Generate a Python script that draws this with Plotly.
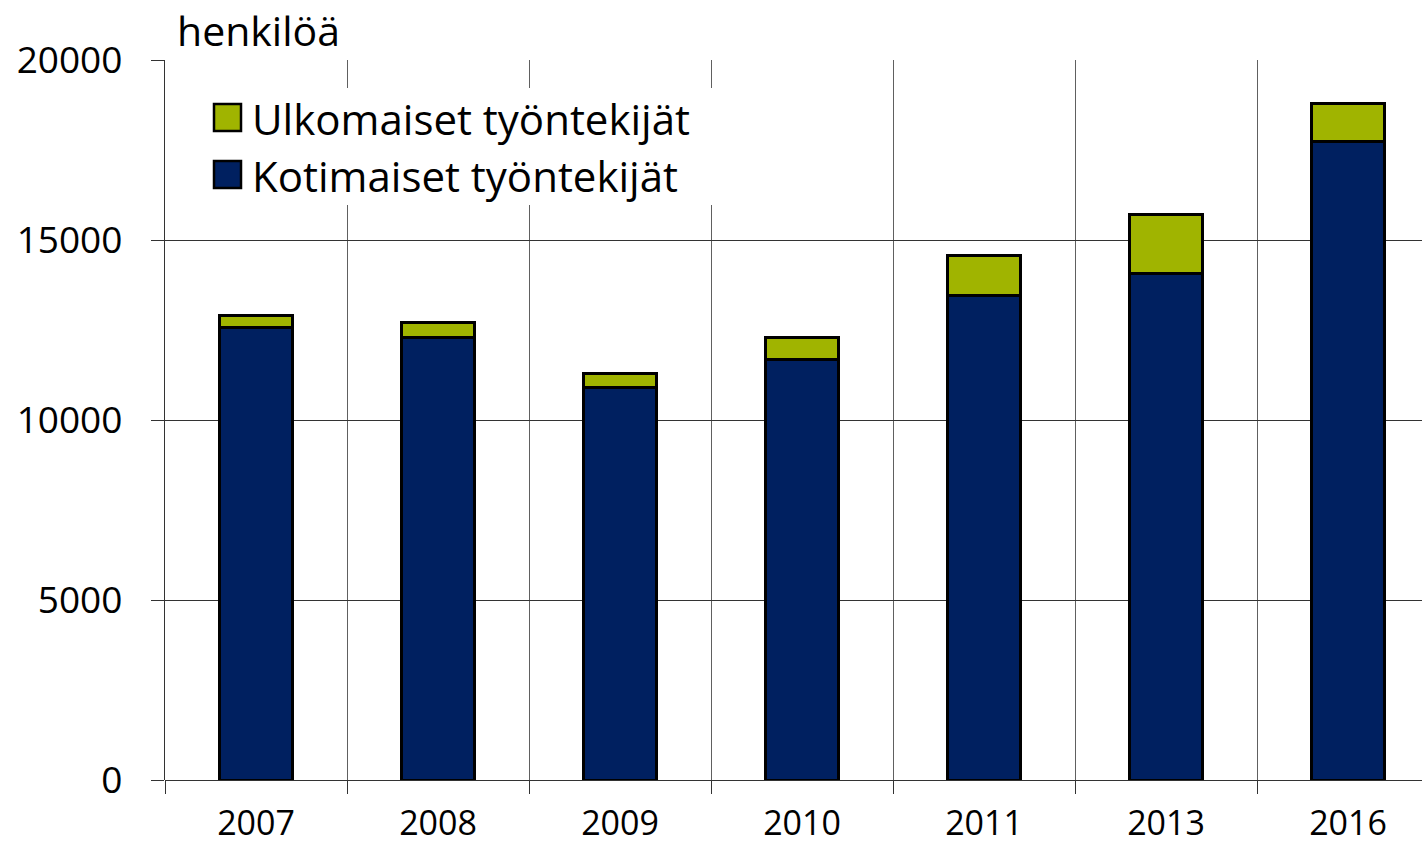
import plotly.graph_objects as go

years = ["2007", "2008", "2009", "2010", "2011", "2013", "2016"]
kotimaiset = [12580, 12280, 10890, 11670, 13470, 14080, 17750]
ulkomaiset = [320, 440, 410, 630, 1090, 1640, 1030]
y_ticks = [0, 5000, 10000, 15000, 20000]

name_ulko = "Ulkomaiset työntekijät"
name_koti = "Kotimaiset työntekijät"
col_ulko = "#A0B400"
col_koti = "#002060"

SW, SH = 1422, 847          # figure size
PL, PT, PB = 165, 60, 780   # plot area edges
PW, PH = SW - PL, PB - PT

def px(x):
    return (x - PL) / PW

def py(y):
    return (PB - y) / PH

FONT = "Open Sans"

fig = go.Figure()
fig.add_trace(go.Bar(x=years, y=kotimaiset, name=name_koti, width=0.4,
                     marker=dict(color=col_koti, line=dict(color="black", width=3)),
                     showlegend=False))
fig.add_trace(go.Bar(x=years, y=ulkomaiset, name=name_ulko, width=0.4,
                     marker=dict(color=col_ulko, line=dict(color="black", width=3)),
                     showlegend=False))

shapes = [
    dict(type="rect", xref="paper", yref="paper", x0=px(200), x1=px(722), y0=py(205), y1=py(88),
         fillcolor="white", line=dict(width=0), layer="above"),
    dict(type="rect", xref="paper", yref="paper", x0=px(214), x1=px(241), y0=py(131), y1=py(104),
         fillcolor=col_ulko, line=dict(color="black", width=2.5), layer="above"),
    dict(type="rect", xref="paper", yref="paper", x0=px(214), x1=px(241), y0=py(188), y1=py(161),
         fillcolor=col_koti, line=dict(color="black", width=2.5), layer="above"),
]
annotations = [
    dict(text=name_ulko, xref="paper", yref="paper", x=px(250), y=py(118), xanchor="left",
         yanchor="middle", showarrow=False, font=dict(family=FONT, size=42, color="black")),
    dict(text=name_koti, xref="paper", yref="paper", x=px(250), y=py(175), xanchor="left",
         yanchor="middle", showarrow=False, font=dict(family=FONT, size=42, color="black")),
    dict(text="henkilöä", xref="paper", yref="paper", x=px(175), y=py(30), xanchor="left",
         yanchor="middle", showarrow=False, font=dict(family=FONT, size=41, color="black")),
]

fig.update_layout(
    barmode="stack",
    width=SW, height=SH,
    margin=dict(l=PL, r=0, t=PT, b=SH - PB, pad=0, autoexpand=False),
    paper_bgcolor="white", plot_bgcolor="white",
    font=dict(family=FONT, color="black"),
    shapes=shapes, annotations=annotations,
    xaxis=dict(type="category", range=[-0.5, -0.5 + PW / 182.0], tickson="boundaries",
               automargin=False,
               showgrid=True, gridcolor="#606060", gridwidth=1.3,
               ticks="outside", ticklen=13, tickcolor="#333333", tickwidth=1.3,
               ticklabelstandoff=20,
               showline=False, tickfont=dict(family=FONT, size=34, color="black")),
    yaxis=dict(range=[0, 20000], tickvals=y_ticks, ticktext=[str(v) for v in y_ticks],
               automargin=False,
               showgrid=True, gridcolor="#333333", gridwidth=1.3,
               ticks="outside", ticklen=13, tickcolor="#333333", tickwidth=1.3,
               ticklabelstandoff=21,
               showline=True, linecolor="#333333", linewidth=1.3,
               zeroline=True, zerolinecolor="#333333", zerolinewidth=1.3,
               tickfont=dict(family=FONT, size=37, color="black")),
)

fig.write_html("out.html", config={"displayModeBar": False},
               post_script="document.body.style.margin='0px';")
